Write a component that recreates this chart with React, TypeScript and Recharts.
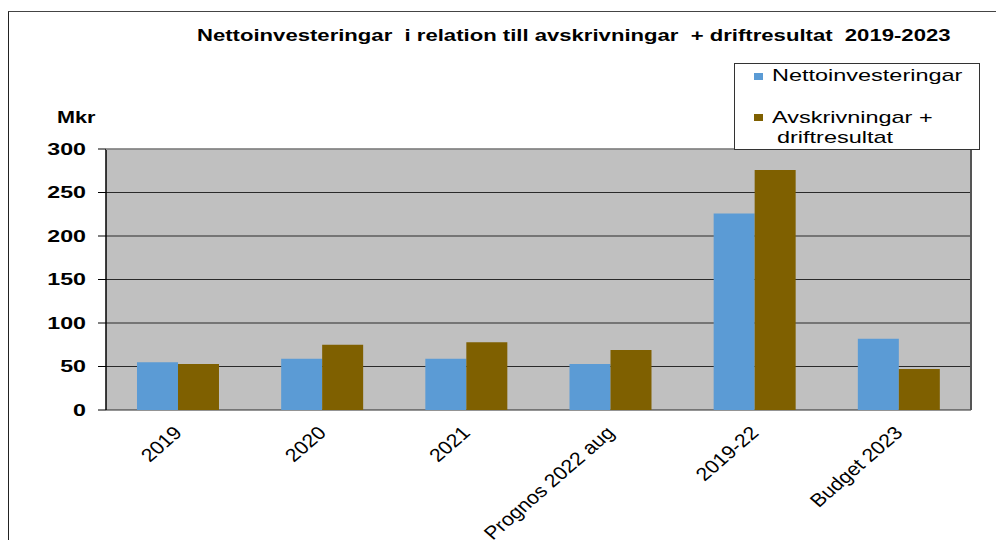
import { BarChart, Bar, XAxis, YAxis, CartesianGrid } from 'recharts';

const categories = ['2019', '2020', '2021', 'Prognos 2022 aug', '2019-22', 'Budget 2023'];
const nettoinvesteringar = [55, 59, 59, 53, 226, 82];
const avskrivningar = [53, 75, 78, 69, 276, 47];
const yTicks = [0, 50, 100, 150, 200, 250, 300];
const edgeTicks = [0, 1, 2, 3, 4, 5, 6];
const seriesNames = ['Nettoinvesteringar', 'Avskrivningar +\ndriftresultat'];
const seriesColors = ['#5b9bd5', '#7f6000'];

const data = categories.map((name, i) => ({
  name,
  netto: nettoinvesteringar[i],
  avskr: avskrivningar[i],
}));

const FONT = '"Liberation Sans", Arial, sans-serif';
const STRETCH = 1.38;

const YTick = ({ x, y, payload }: any) => (
  <text
    transform={`translate(${x},${y}) scale(1.45,1)`}
    textAnchor="end"
    dy="0.36em"
    fontFamily={FONT}
    fontWeight="bold"
    fontSize={16}
    fill="#000"
  >
    {payload.value}
  </text>
);

const XTick = ({ x, y, payload }: any) => (
  <g transform={`translate(${x + 5},${y + 10})`}>
    <text
      transform="scale(1.15,1) rotate(-45)"
      textAnchor="end"
      fontFamily={FONT}
      fontSize={18.5}
      fill="#000"
    >
      {payload.value}
    </text>
  </g>
);

const stretched = (extra: React.CSSProperties, s = STRETCH): React.CSSProperties => ({
  position: 'absolute',
  fontFamily: FONT,
  whiteSpace: 'pre',
  transform: `scaleX(${s})`,
  transformOrigin: 'left center',
  lineHeight: 1,
  ...extra,
});

const App = () => {
  return (
    <div style={{ position: 'relative', width: 1004, height: 548, margin: -8, background: '#fff', overflow: 'hidden' }}>
      <BarChart
        width={1004}
        height={548}
        data={data}
        margin={{ top: 149, right: 33, left: 0, bottom: 0 }}
        barCategoryGap="21.5%"
        barGap={0}
      >
        <CartesianGrid vertical={false} fill="#c0c0c0" stroke="#2a2a2a" fillOpacity={1} />
        <XAxis
          xAxisId="edge"
          type="number"
          domain={[0, 6]}
          ticks={edgeTicks}
          tick={false}
          tickSize={8}
          height={0}
          axisLine={{ stroke: '#000', strokeWidth: 1.5 }}
          tickLine={{ stroke: '#000' }}
        />
        <XAxis
          xAxisId="cat"
          dataKey="name"
          tick={<XTick />}
          tickLine={false}
          tickSize={0}
          tickMargin={14}
          axisLine={false}
          interval={0}
          height={138}
        />
        <YAxis
          domain={[0, 300]}
          ticks={yTicks}
          width={106}
          tick={<YTick />}
          tickSize={8}
          tickMargin={12}
          axisLine={{ stroke: '#000', strokeWidth: 1.5 }}
          tickLine={{ stroke: '#000' }}
          interval={0}
        />
        <Bar xAxisId="cat" dataKey="netto" name={seriesNames[0]} fill={seriesColors[0]} isAnimationActive={false} />
        <Bar xAxisId="cat" dataKey="avskr" name={seriesNames[1]} fill={seriesColors[1]} isAnimationActive={false} />
      </BarChart>

      {/* plot border top/right */}
      <div style={{ position: 'absolute', left: 106, top: 149, width: 864, height: 260, borderTop: '1px solid #8a8a8a', borderRight: '2px solid #555', pointerEvents: 'none' }} />

      {/* outer frame */}
      <div style={{ position: 'absolute', left: 7, top: 11, width: 1010, height: 560, borderTop: '1px solid #444', borderLeft: '2px solid #222', pointerEvents: 'none' }} />

      <div style={stretched({ left: 197, top: 27, fontSize: 17, fontWeight: 'bold' }, 1.3)}>
        {'Nettoinvesteringar  i relation till avskrivningar  + driftresultat  2019-2023'}
      </div>

      <div style={stretched({ left: 57, top: 110, fontSize: 16, fontWeight: 'bold' }, 1.35)}>Mkr</div>

      {/* legend */}
      <div style={{ position: 'absolute', left: 734, top: 63, width: 244, height: 85, border: '1px solid #333', background: '#fff' }} />
      <div style={{ position: 'absolute', left: 754, top: 73, width: 9, height: 7, background: seriesColors[0] }} />
      <div style={stretched({ left: 772, top: 67, fontSize: 17 })}>{seriesNames[0]}</div>
      <div style={{ position: 'absolute', left: 754, top: 114, width: 9, height: 7, background: seriesColors[1] }} />
      <div style={stretched({ left: 772, top: 109, fontSize: 17 })}>{seriesNames[1].split('\n')[0]}</div>
      <div style={stretched({ left: 777, top: 129, fontSize: 17 })}>{seriesNames[1].split('\n')[1]}</div>
    </div>
  );
};

export default App;
